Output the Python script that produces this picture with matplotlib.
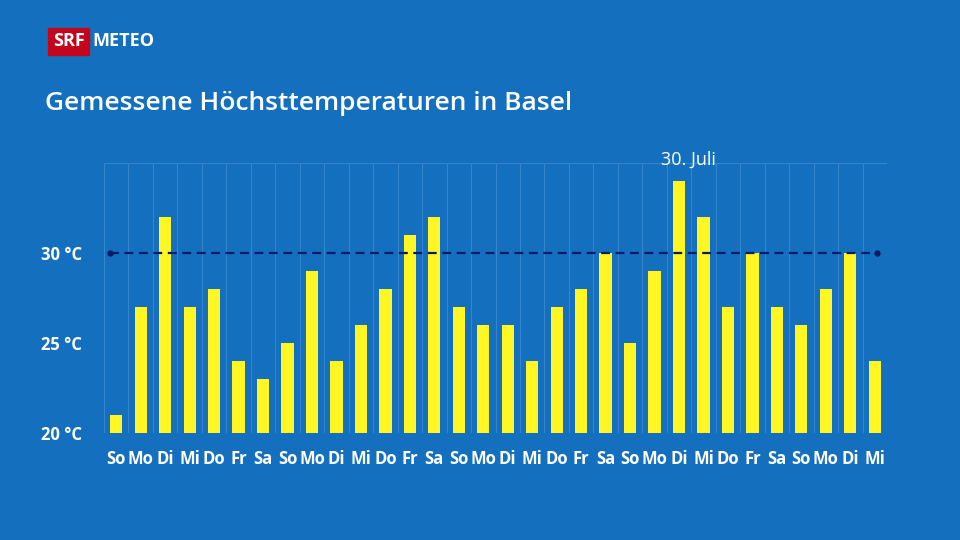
import matplotlib
matplotlib.use('Agg')
import matplotlib.pyplot as plt
from matplotlib.patches import Rectangle

# Data
days = ['So', 'Mo', 'Di', 'Mi', 'Do', 'Fr', 'Sa',
        'So', 'Mo', 'Di', 'Mi', 'Do', 'Fr', 'Sa',
        'So', 'Mo', 'Di', 'Mi', 'Do', 'Fr', 'Sa',
        'So', 'Mo', 'Di', 'Mi', 'Do', 'Fr', 'Sa',
        'So', 'Mo', 'Di', 'Mi']
max_temp = [21, 27, 32, 27, 28, 24, 23,
            25, 29, 24, 26, 28, 31, 32,
            27, 26, 26, 24, 27, 28, 30,
            25, 29, 34, 32, 27, 30, 27,
            26, 28, 30, 24]
hot_day = 30
y_ticks = [20, 25, 30]
y_labels = ['20 °C', '25 °C', '30 °C']
note_text = '30. Juli'
note_index = 23

bg = '#1470bf'
bar_color = '#fff623'
line_color = '#0b1a66'
grid_color = '#3585cc'

plt.rcParams['font.family'] = ['Open Sans', 'DejaVu Sans']

fig = plt.figure(figsize=(9.6, 5.4), dpi=100, facecolor=bg)
ax = fig.add_axes([104 / 960, 107 / 540, 783 / 960, 270 / 540])
ax.set_facecolor(bg)

positions = list(range(len(max_temp)))
ax.bar(positions, [t - 20 for t in max_temp], bottom=20, width=0.5,
       color=bar_color, zorder=3)

ax.set_xlim(-0.5, len(max_temp) - 0.5)
ax.set_ylim(20, 35)

# grid lines between bars and at each 5 degrees
ax.set_xticks([p - 0.5 for p in positions] + [len(max_temp) - 0.5], minor=True)
ax.grid(which='minor', axis='x', color=grid_color, linewidth=0.8, zorder=1)
ax.set_yticks([20, 25, 30, 35], minor=True)
ax.grid(which='minor', axis='y', color=grid_color, linewidth=0.8, zorder=1)

ax.set_xticks(positions)
ax.set_xticklabels(days, color='white', fontsize=12, fontweight='bold')
ax.set_yticks(y_ticks)
ax.set_yticklabels(y_labels, color='white', fontsize=12, fontweight='bold')
ax.tick_params(which='both', length=0)
ax.tick_params(axis='x', pad=12)
ax.tick_params(axis='y', pad=16)
for s in ax.spines.values():
    s.set_visible(False)

# 30 degree reference line
ax.plot([-0.25, len(max_temp) - 0.9], [hot_day, hot_day], color=line_color,
        linestyle=(0, (4, 2.5)), linewidth=1.6, zorder=4)
ax.plot([-0.25, len(max_temp) - 0.9], [hot_day, hot_day], 'o', color=line_color,
        markersize=3.5, zorder=4)

ax.text(note_index + 0.4, 35.2, note_text, color='white', fontsize=13,
        ha='center', va='center')

# header
fig.text(45 / 960, 1 - 103 / 540, 'Gemessene Höchsttemperaturen in Basel',
         color='white', fontsize=19, fontweight='semibold', va='center')
fig.patches.append(Rectangle((48 / 960, 1 - 55 / 540), 41 / 960, 27 / 540,
                             transform=fig.transFigure, color='#c4061d'))
fig.text(68.5 / 960, 1 - 41.5 / 540, 'SRF', color='white', fontsize=13,
         fontweight='bold', ha='center', va='center')
fig.text(92 / 960, 1 - 41.5 / 540, 'METEO', color='white', fontsize=13,
         fontweight='bold', va='center')

plt.savefig('out.png', dpi=100, facecolor=bg)
